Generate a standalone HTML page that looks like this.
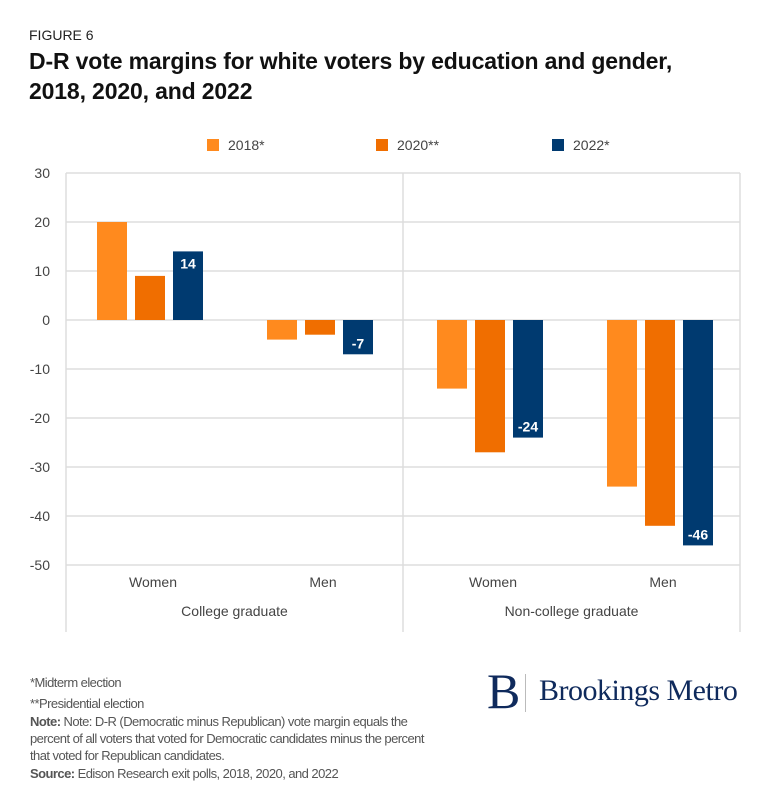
<!DOCTYPE html>
<html><head><meta charset="utf-8"><style>
body{margin:0;background:#fff;width:768px;height:808px;overflow:hidden;font-family:"Liberation Sans",sans-serif;}
svg{position:absolute;left:0;top:0}
.note{position:absolute;left:30px;color:#555;font-size:13px;letter-spacing:-0.55px;line-height:17px}
</style></head><body>
<div style="position:absolute;left:29px;top:27px;font-size:14px;color:#222">FIGURE 6</div>
<div style="position:absolute;left:29px;top:46px;font-size:23px;font-weight:bold;color:#111;line-height:30px;letter-spacing:-0.15px">D-R vote margins for white voters by education and gender,<br>2018, 2020, and 2022</div>
<svg id="c" width="768" height="808"></svg>
<div class="note" style="top:674px">*Midterm election</div>
<div class="note" style="top:695px">**Presidential election</div>
<div class="note" style="top:713px;width:412px"><b>Note:</b> Note: D-R (Democratic minus Republican) vote margin equals the percent of all voters that voted for Democratic candidates minus the percent that voted for Republican candidates.</div>
<div class="note" style="top:765px"><b>Source:</b> Edison Research exit polls, 2018, 2020, and 2022</div>
<div style="position:absolute;left:487px;top:670px;color:#0f2a5c;font-family:'Liberation Serif',serif">
<span style="position:absolute;left:0;top:-8px;font-size:50px">B</span>
<span style="position:absolute;left:38px;top:4px;width:1px;height:38px;background:#bbb"></span>
<span style="position:absolute;left:52px;top:4px;font-size:30px;white-space:nowrap;letter-spacing:-0.5px">Brookings Metro</span>
</div>
<script>
const categories=["Women","Men","Women","Men"];
const groups=["College graduate","Non-college graduate"];
const series=["2018*","2020**","2022*"];
const v2018=[20,-4,-14,-34];
const v2020=[9,-3,-27,-42];
const v2022=[14,-7,-24,-46];
const yTicks=[30,20,10,0,-10,-20,-30,-40,-50];
const colors=["#FF8A1E","#F06E00","#003A70"];
const svg=document.getElementById('c');const NS="http://www.w3.org/2000/svg";
function mk(t,a,p){const e=document.createElementNS(NS,t);for(const k in a)e.setAttribute(k,a[k]);(p||svg).appendChild(e);return e;}
const L=66,R=740,T=173,Bt=565;
const y=v=>T+(30-v)*(Bt-T)/80;
const xc=i=>150+170*i;
yTicks.forEach(t=>{
 const l=mk('line',{x1:L,x2:R,y1:y(t),y2:y(t),stroke:'#ddd','stroke-width':1.5});
 
 const tx=mk('text',{x:50,y:y(t)+5,'text-anchor':'end','font-size':14,fill:'#444'});tx.textContent=t;
 
});
[L,(L+R)/2,R].forEach(x=>{const l=mk('line',{x1:x,x2:x,y1:T,y2:632,stroke:'#ddd','stroke-width':1.5});
 });
const vals=[v2018,v2020,v2022];
vals.forEach((arr,s)=>arr.forEach((v,i)=>{
 const x=xc(i)+(s-1)*38-15;
 const r=mk('rect',{x:x,y:Math.min(y(v),y(0)),width:30,height:Math.abs(y(v)-y(0)),fill:colors[s]});
 
 if(s==2){const t=mk('text',{x:x+15,y:v>=0?y(v)+17:y(v)-6,'text-anchor':'middle','font-size':14,'font-weight':'bold',fill:'#fff'});t.textContent=v;
  }
}));
categories.forEach((c,i)=>{const t=mk('text',{x:xc(i)+3,y:587,'text-anchor':'middle','font-size':14,fill:'#444'});t.textContent=c;
 });
groups.forEach((g,i)=>{const t=mk('text',{x:L+(R-L)/4*(2*i+1),y:616,'text-anchor':'middle','font-size':14,fill:'#444'});t.textContent=g;
 });
const lx=[207,376,552];
series.forEach((s,i)=>{const r=mk('rect',{x:lx[i],y:139,width:12,height:12,fill:colors[i]});
 
 const t=mk('text',{x:lx[i]+21,y:150,'font-size':14,fill:'#444'});t.textContent=s;
 });
</script>
</body></html>
